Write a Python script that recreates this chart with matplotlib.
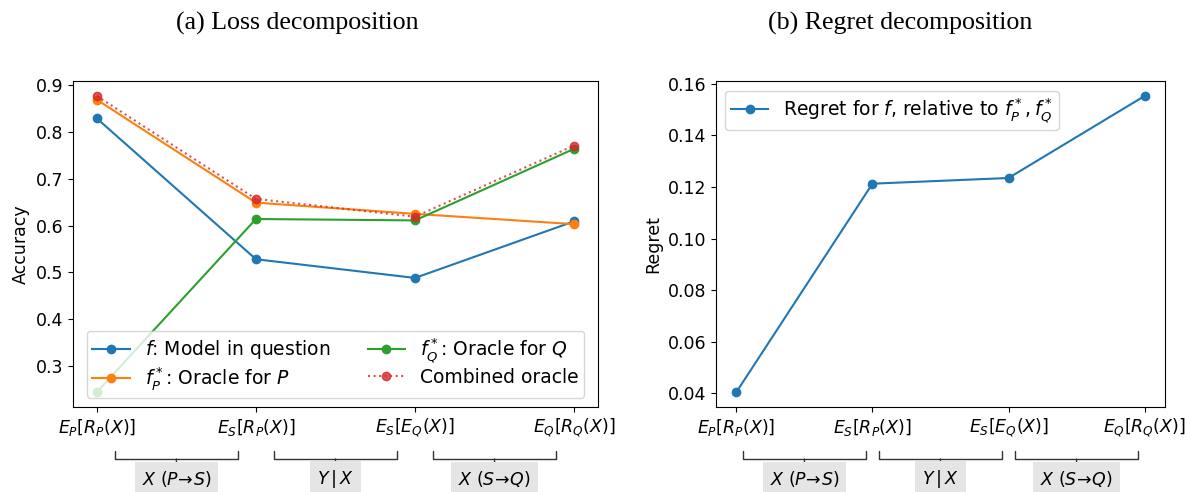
import numpy as np
import matplotlib
matplotlib.use("Agg")
from matplotlib import pyplot as plt

# evaluation settings along the x axis
settings = [r"$E_P[R_P(X)]$", r"$E_S[R_P(X)]$", r"$E_S[E_Q(X)]$", r"$E_Q[R_Q(X)]$"]

# accuracies of each model under each setting
acc_f = [0.829, 0.528, 0.488, 0.609]
acc_oracle_p = [0.869, 0.649, 0.625, 0.603]
acc_oracle_q = [0.244, 0.614, 0.611, 0.764]
acc_combined = [0.877, 0.657, 0.619, 0.771]

# regret of f relative to the oracles
regret_f = [0.0405, 0.1213, 0.1235, 0.1553]

# shift labels shown between consecutive settings
shift_pos = [0.5, 1.5, 2.5]
shift_labels = [r"$X$ $(P\!\rightarrow\!S)$", r"$Y\,|\,X$", r"$X$ $(S\!\rightarrow\!Q)$"]

FS = 12.5
plt.rcParams["font.size"] = FS
plt.rcParams["legend.fontsize"] = 13.5


def add_shift_brackets(ax, width):
    """brackets under the x axis naming the shift between two settings"""
    for pos, lbl in zip(shift_pos, shift_labels):
        ax.annotate(lbl, xy=(pos, -0.16), xytext=(pos, -0.221),
                    xycoords=("data", "axes fraction"),
                    textcoords=("data", "axes fraction"),
                    ha="center", va="center", fontsize=12.5,
                    bbox=dict(boxstyle="square,pad=0.4", fc="#e5e5e5", ec="none"),
                    arrowprops=dict(arrowstyle="-[, widthB=%.2f, lengthB=0.46" % width,
                                    lw=1.0, color="#333333", shrinkA=0, shrinkB=0),
                    annotation_clip=False)


fig = plt.figure(figsize=(11.85, 4.92), dpi=100)
ax1 = fig.add_axes([0.0616, 0.173, 0.4430, 0.662])
ax2 = fig.add_axes([0.6042, 0.173, 0.3789, 0.662])

x = np.arange(len(settings))

ax1.plot(x, acc_f, "o-", color="tab:blue", label=r"$f$: Model in question")
ax1.plot(x, acc_oracle_p, "o-", color="tab:orange", label=r"$f^*_P$: Oracle for $P$")
ax1.plot(x, acc_oracle_q, "o-", color="tab:green", label=r"$f^*_Q$: Oracle for $Q$")
ax1.plot(x, acc_combined, "o:", color="tab:red", alpha=0.8, label="Combined oracle")
ax1.set_xticks(x)
ax1.set_xticklabels(settings)
ax1.set_ylabel("Accuracy")
ax1.legend(ncol=2, loc="lower center", labelspacing=0.2, borderpad=0.3)
add_shift_brackets(ax1, 3.55)

ax2.plot(x, regret_f, "o-", color="tab:blue",
         label=r"Regret for $f$, relative to $f^*_P, f^*_Q$")
ax2.set_xticks(x)
ax2.set_xticklabels(settings)
ax2.set_ylabel("Regret")
ax2.legend(loc="upper left", borderpad=0.3)
add_shift_brackets(ax2, 3.55)

fig.text(297 / 1185, 1 - 23 / 492, "(a) Loss decomposition", family="Liberation Serif",
         fontsize=18.6, ha="center", va="center")
fig.text(900 / 1185, 1 - 23 / 492, "(b) Regret decomposition", family="Liberation Serif",
         fontsize=18.6, ha="center", va="center")

fig.savefig("out.png", dpi=100)
